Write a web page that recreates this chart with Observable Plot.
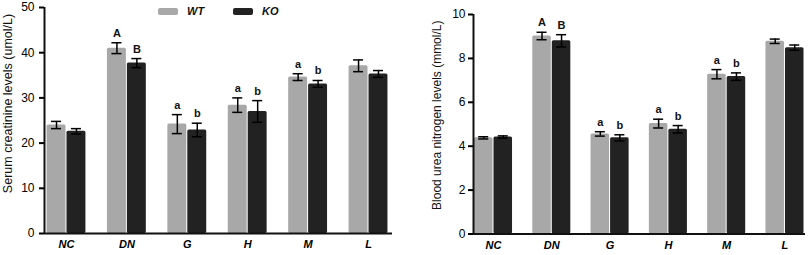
<!DOCTYPE html>
<html>
<head>
<meta charset="utf-8">
<script src="https://cdn.jsdelivr.net/npm/d3@7"></script>
<script src="https://cdn.jsdelivr.net/npm/@observablehq/plot@0.6"></script>
<style>
  html, body { margin: 0; padding: 0; background: #fff; }
  #wrap { position: relative; width: 810px; height: 255px; font-family: "Liberation Sans", Arial, sans-serif; }
  #left, #right { position: absolute; top: 0; }
  #left { left: 0; }
  #right { left: 405px; }
  .legend { position: absolute; top: 0; left: 0; font: italic bold 11px "Liberation Sans", Arial, sans-serif; color: #111; }
  .sw { position: absolute; height: 7px; width: 20px; border-radius: 2px; }
  .lt { position: absolute; line-height: 12px; }
</style>
</head>
<body>
<div id="wrap">
  <div id="left"></div>
  <div id="right"></div>
  <div class="legend">
    <div class="sw" style="left:158px; top:8px; background:#a8a8a8;"></div>
    <div class="lt" style="left:187px; top:5px;">WT</div>
    <div class="sw" style="left:233px; top:8px; background:#222;"></div>
    <div class="lt" style="left:262px; top:5px;">KO</div>
  </div>
</div>
<script>
const categories = ["NC", "DN", "G", "H", "M", "L"];
const seriesNames = ["WT", "KO"];

const creatWT = [24.0, 41.0, 24.2, 28.4, 34.6, 37.1];
const creatWTErr = [0.8, 1.2, 2.1, 1.6, 0.75, 1.3];
const creatKO = [22.6, 37.7, 22.9, 27.0, 33.1, 35.3];
const creatKOErr = [0.6, 1.0, 1.5, 2.4, 0.75, 0.75];

const bunWT = [4.38, 9.02, 4.56, 5.03, 7.28, 8.78];
const bunWTErr = [0.05, 0.17, 0.10, 0.20, 0.21, 0.10];
const bunKO = [4.42, 8.80, 4.38, 4.77, 7.17, 8.49];
const bunKOErr = [0.05, 0.28, 0.14, 0.17, 0.17, 0.12];

const lettersWT = ["", "A", "a", "a", "a", ""];
const lettersKO = ["", "B", "b", "b", "b", ""];

const creatTicks = [0, 10, 20, 30, 40, 50];
const bunTicks = [0, 2, 4, 6, 8, 10];

const colors = {WT: "#a8a8a8", KO: "#222222"};
const FONT = "Liberation Sans, Arial, sans-serif";

function rows(wt, wtErr, ko, koErr, bw) {
  const out = [];
  categories.forEach((c, i) => {
    out.push({cat: c, i, series: "WT", v: wt[i], e: wtErr[i], x1: i - bw, x2: i, xc: i - bw / 2, letter: lettersWT[i]});
    out.push({cat: c, i, series: "KO", v: ko[i], e: koErr[i], x1: i, x2: i + bw, xc: i + bw / 2, letter: lettersKO[i]});
  });
  return out;
}

function chart({data, xDomain, yDomain, ticks, margins, label, titleDx, titleDy, titleSize, tickPadding, capHalf}) {
  return Plot.plot({
    width: 405,
    height: 255,
    marginLeft: margins[0],
    marginRight: margins[1],
    marginTop: margins[2],
    marginBottom: margins[3],
    style: {fontFamily: FONT, fontSize: "12px", color: "#000", background: "transparent", overflow: "visible"},
    x: {type: "linear", domain: xDomain},
    y: {domain: yDomain},
    marks: [
      Plot.rectY(data, {x1: "x1", x2: "x2", y1: 0, y2: "v", fill: d => colors[d.series], insetLeft: 0.5, insetRight: 0.5, rx: 1.5}),
      Plot.ruleX(data, {x: "xc", y1: d => d.v - d.e, y2: d => d.v + d.e, stroke: "#000", strokeWidth: 1.5}),
      Plot.ruleY(data, {y: d => d.v + d.e, x1: d => d.xc - capHalf, x2: d => d.xc + capHalf, stroke: "#000", strokeWidth: 1.5}),
      Plot.ruleY(data, {y: d => d.v - d.e, x1: d => d.xc - capHalf, x2: d => d.xc + capHalf, stroke: "#000", strokeWidth: 1.5}),
      Plot.text(data.filter(d => d.letter), {x: "xc", y: d => d.v + d.e, text: "letter", dy: -6, lineAnchor: "bottom", fontSize: 11, fontWeight: "bold", fill: "#111"}),
      Plot.ruleY([0], {stroke: "#111", strokeWidth: 2}),
      Plot.ruleX([xDomain[0]], {stroke: "#111", strokeWidth: 2}),
      Plot.axisY({ticks, tickSize: 5, tickPadding, strokeWidth: 2, fontSize: 12, label: null}),
      Plot.text([label], {frameAnchor: "left", textAnchor: "middle", lineAnchor: "middle", rotate: -90, dx: titleDx, dy: titleDy, fontSize: titleSize, fill: "#111"}),
      Plot.axisX({ticks: d3.range(categories.length), tickFormat: i => categories[i], tickSize: 0, tickPadding: 7, fontSize: 11, fontWeight: "bold", fontStyle: "italic", label: null})
    ]
  });
}

const leftData = rows(creatWT, creatWTErr, creatKO, creatKOErr, 0.33);
document.getElementById("left").append(chart({
  data: leftData,
  xDomain: [-0.364, 5.397],
  yDomain: [0, 50],
  ticks: creatTicks,
  margins: [44, 13, 7, 22],
  label: "Serum creatinine levels (umol/L)",
  titleDx: -37,
  titleDy: -17,
  titleSize: 12.5,
  tickPadding: 5,
  capHalf: 0.083
}));

const rightData = rows(bunWT, bunWTErr, bunKO, bunKOErr, 0.335);
document.getElementById("right").append(chart({
  data: rightData,
  xDomain: [-0.343, 5.352],
  yDomain: [0, 10],
  ticks: bunTicks,
  margins: [68, 5, 14, 21.5],
  label: "Blood urea nitrogen levels (mmol/L)",
  titleDx: -36,
  titleDy: -9,
  titleSize: 12,
  tickPadding: 3,
  capHalf: 0.086
}));
</script>
</body>
</html>
